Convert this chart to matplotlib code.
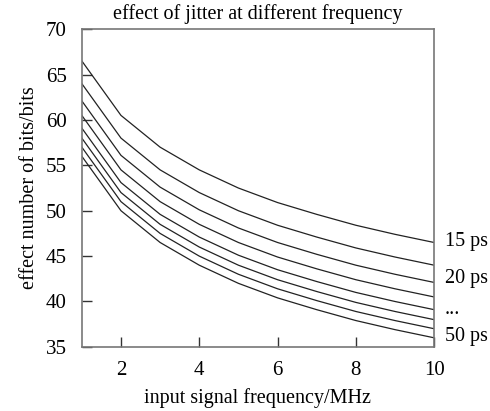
import matplotlib
matplotlib.use("Agg")
import matplotlib.pyplot as plt

freq = [1, 2, 3, 4, 5, 6, 7, 8, 9, 10]
jitter_ps = [15, 20, 25, 30, 35, 40, 45, 50]
enob = {
    15: [66.5, 60.5, 57.0, 54.5, 52.5, 50.9, 49.6, 48.4, 47.4, 46.5],
    20: [64.0, 58.0, 54.5, 52.0, 50.0, 48.4, 47.1, 45.9, 44.9, 44.0],
    25: [62.1, 56.1, 52.6, 50.1, 48.1, 46.5, 45.2, 44.0, 43.0, 42.1],
    30: [60.5, 54.5, 51.0, 48.5, 46.5, 44.9, 43.6, 42.4, 41.4, 40.5],
    35: [59.1, 53.1, 49.6, 47.1, 45.1, 43.5, 42.2, 41.0, 40.0, 39.1],
    40: [58.0, 52.0, 48.5, 46.0, 44.0, 42.4, 41.1, 39.9, 38.9, 38.0],
    45: [57.0, 51.0, 47.5, 45.0, 43.0, 41.4, 40.1, 38.9, 37.9, 37.0],
    50: [56.0, 50.0, 46.5, 44.0, 42.0, 40.4, 39.1, 37.9, 36.9, 36.0],
}
right_labels = ["15 ps", "20 ps", "...", "50 ps"]
right_label_y = [46.6, 42.5, 39.1, 36.1]
xticks = [2, 4, 6, 8, 10]
yticks = [35, 40, 45, 50, 55, 60, 65, 70]

plt.rcParams['font.family'] = ['Liberation Serif', 'DejaVu Serif']
plt.rcParams['font.size'] = 14.5

fig = plt.figure(figsize=(4.9, 4.11), dpi=100)
ax = fig.add_axes([0.167, 0.156, 0.719, 0.773])

for j in jitter_ps:
    ax.plot(freq, enob[j], color='#222222', linewidth=0.9)

ax.set_xlim(1, 10)
ax.set_ylim(35, 70)
ax.set_xticks(xticks)
ax.set_yticks(yticks)
ax.tick_params(direction='in', length=7, width=1, color='#333333', pad=10,
               labelsize=15, top=False, right=False)
ax.tick_params(axis='y', pad=11)
for s in ax.spines.values():
    s.set_color('#777777')
    s.set_linewidth(1.2)

for lab, yv in zip(right_labels, right_label_y):
    ax.text(10.27, yv, lab, va='center', ha='left', fontsize=14.5)

ax.set_xlabel('input signal frequency/MHz', labelpad=6)
ax.set_ylabel('effect number of bits/bits', labelpad=5)
ax.set_title('effect of jitter at different frequency', fontsize=14.5, pad=7)

fig.savefig('out.png', dpi=100)
